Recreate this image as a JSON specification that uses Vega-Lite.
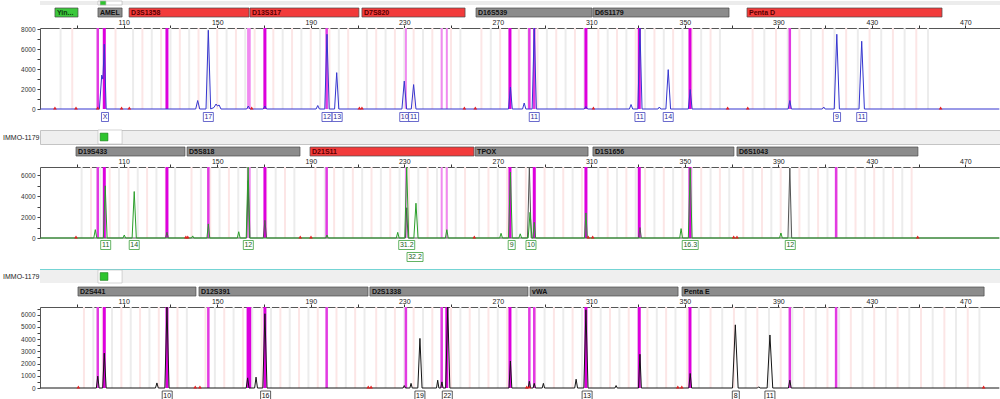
{
"$schema": "https://vega.github.io/schema/vega-lite/v6.json",
"padding": {"left": 2, "top": 0, "right": 0, "bottom": 0},
"bounds": "flush",
"spacing": 0,
"config": {"view": {"stroke": null}, "font": "Liberation Sans", "axis": {"labelFont": "Liberation Sans"}},
"datasets": {
"lc1": [{"n":"Yin...","s":80.6,"e":90.45,"k":"c"},{"n":"AMEL","s":99.0,"e":109.3,"k":"g"},{"n":"D3S1358","s":112.3,"e":163.6,"k":"r"},{"n":"D13S317","s":164.0,"e":210.6,"k":"r"},{"n":"D7S820","s":211.9,"e":256.0,"k":"r"},{"n":"D16S539","s":260.7,"e":310.3,"k":"g"},{"n":"D6S1179","s":310.7,"e":368.9,"k":"g"},{"n":"Penta D","s":376.6,"e":460.0,"k":"r"}],
"lc2": [{"n":"D19S433","s":89.6,"e":136.2,"k":"g"},{"n":"D5S818","s":137.1,"e":185.4,"k":"g"},{"n":"D21S11","s":189.7,"e":259.8,"k":"r"},{"n":"TPOX","s":260.3,"e":308.6,"k":"g"},{"n":"D1S1656","s":310.7,"e":371.0,"k":"g"},{"n":"D6S1043","s":372.3,"e":449.7,"k":"g"}],
"lc3": [{"n":"D2S441","s":90.45,"e":140.9,"k":"g"},{"n":"D12S391","s":142.2,"e":214.5,"k":"g"},{"n":"D2S1338","s":215.3,"e":282.9,"k":"g"},{"n":"vWA","s":283.8,"e":347.1,"k":"g"},{"n":"Penta E","s":348.8,"e":478.0,"k":"g"}],
"st1": [{"bp":83,"t":"g"},{"bp":88,"t":"p"},{"bp":101.5,"t":"g"},{"bp":106.5,"t":"p"},{"bp":114,"t":"g"},{"bp":118,"t":"p"},{"bp":122,"t":"g"},{"bp":126,"t":"p"},{"bp":130,"t":"g"},{"bp":134,"t":"p"},{"bp":138,"t":"g"},{"bp":142,"t":"p"},{"bp":146,"t":"g"},{"bp":150,"t":"p"},{"bp":154,"t":"g"},{"bp":158,"t":"p"},{"bp":162,"t":"g"},{"bp":166,"t":"p"},{"bp":170,"t":"g"},{"bp":174,"t":"p"},{"bp":178,"t":"g"},{"bp":182,"t":"p"},{"bp":186,"t":"g"},{"bp":190,"t":"p"},{"bp":194,"t":"g"},{"bp":198,"t":"p"},{"bp":202,"t":"g"},{"bp":206,"t":"p"},{"bp":214,"t":"g"},{"bp":218,"t":"p"},{"bp":222,"t":"g"},{"bp":226,"t":"p"},{"bp":230,"t":"g"},{"bp":234,"t":"p"},{"bp":238,"t":"g"},{"bp":242,"t":"p"},{"bp":246,"t":"g"},{"bp":250,"t":"p"},{"bp":254,"t":"g"},{"bp":263,"t":"p"},{"bp":267,"t":"g"},{"bp":271,"t":"p"},{"bp":275,"t":"g"},{"bp":279,"t":"p"},{"bp":283,"t":"g"},{"bp":287,"t":"p"},{"bp":291,"t":"g"},{"bp":295,"t":"p"},{"bp":299,"t":"g"},{"bp":303,"t":"p"},{"bp":307,"t":"g"},{"bp":313,"t":"p"},{"bp":317,"t":"g"},{"bp":321,"t":"p"},{"bp":325,"t":"g"},{"bp":329,"t":"p"},{"bp":333,"t":"g"},{"bp":337,"t":"p"},{"bp":341,"t":"g"},{"bp":345,"t":"p"},{"bp":349,"t":"g"},{"bp":353,"t":"p"},{"bp":357,"t":"g"},{"bp":361,"t":"p"},{"bp":365,"t":"g"},{"bp":379,"t":"p"},{"bp":384,"t":"g"},{"bp":389,"t":"p"},{"bp":394,"t":"g"},{"bp":399,"t":"p"},{"bp":404,"t":"g"},{"bp":409,"t":"p"},{"bp":414,"t":"g"},{"bp":419,"t":"p"},{"bp":424,"t":"g"},{"bp":429,"t":"p"},{"bp":434,"t":"g"},{"bp":439,"t":"p"},{"bp":444,"t":"g"},{"bp":449,"t":"p"},{"bp":454,"t":"g"}],
"st2": [{"bp":92,"t":"g"},{"bp":96,"t":"p"},{"bp":100,"t":"g"},{"bp":104,"t":"p"},{"bp":108,"t":"g"},{"bp":112,"t":"p"},{"bp":116,"t":"g"},{"bp":120,"t":"p"},{"bp":124,"t":"g"},{"bp":128,"t":"p"},{"bp":132,"t":"g"},{"bp":139,"t":"p"},{"bp":143,"t":"g"},{"bp":147,"t":"p"},{"bp":151,"t":"g"},{"bp":155,"t":"p"},{"bp":159,"t":"g"},{"bp":163,"t":"p"},{"bp":167,"t":"g"},{"bp":171,"t":"p"},{"bp":175,"t":"g"},{"bp":179,"t":"p"},{"bp":183,"t":"g"},{"bp":192,"t":"p"},{"bp":196,"t":"g"},{"bp":200,"t":"p"},{"bp":204,"t":"g"},{"bp":208,"t":"p"},{"bp":212,"t":"g"},{"bp":216,"t":"p"},{"bp":220,"t":"g"},{"bp":224,"t":"p"},{"bp":228,"t":"g"},{"bp":232,"t":"p"},{"bp":236,"t":"g"},{"bp":240,"t":"p"},{"bp":244,"t":"g"},{"bp":248,"t":"p"},{"bp":252,"t":"g"},{"bp":256,"t":"p"},{"bp":262,"t":"g"},{"bp":266,"t":"p"},{"bp":270,"t":"g"},{"bp":274,"t":"p"},{"bp":278,"t":"g"},{"bp":282,"t":"p"},{"bp":286,"t":"g"},{"bp":290,"t":"p"},{"bp":294,"t":"g"},{"bp":298,"t":"p"},{"bp":302,"t":"g"},{"bp":306,"t":"p"},{"bp":313,"t":"g"},{"bp":317,"t":"p"},{"bp":321,"t":"g"},{"bp":325,"t":"p"},{"bp":329,"t":"g"},{"bp":333,"t":"p"},{"bp":337,"t":"g"},{"bp":341,"t":"p"},{"bp":345,"t":"g"},{"bp":349,"t":"p"},{"bp":353,"t":"g"},{"bp":357,"t":"p"},{"bp":361,"t":"g"},{"bp":365,"t":"p"},{"bp":369,"t":"g"},{"bp":375,"t":"p"},{"bp":379,"t":"g"},{"bp":383,"t":"p"},{"bp":387,"t":"g"},{"bp":391,"t":"p"},{"bp":395,"t":"g"},{"bp":399,"t":"p"},{"bp":403,"t":"g"},{"bp":407,"t":"p"},{"bp":411,"t":"g"},{"bp":415,"t":"p"},{"bp":419,"t":"g"},{"bp":423,"t":"p"},{"bp":427,"t":"g"},{"bp":431,"t":"p"},{"bp":435,"t":"g"},{"bp":439,"t":"p"},{"bp":443,"t":"g"},{"bp":447,"t":"p"}],
"st3": [{"bp":93,"t":"p"},{"bp":97,"t":"g"},{"bp":101,"t":"p"},{"bp":105,"t":"g"},{"bp":109,"t":"p"},{"bp":113,"t":"g"},{"bp":117,"t":"p"},{"bp":121,"t":"g"},{"bp":125,"t":"p"},{"bp":129,"t":"g"},{"bp":133,"t":"p"},{"bp":137,"t":"g"},{"bp":145,"t":"p"},{"bp":149,"t":"g"},{"bp":153,"t":"p"},{"bp":157,"t":"g"},{"bp":161,"t":"p"},{"bp":165,"t":"g"},{"bp":169,"t":"p"},{"bp":173,"t":"g"},{"bp":177,"t":"p"},{"bp":181,"t":"g"},{"bp":185,"t":"p"},{"bp":189,"t":"g"},{"bp":193,"t":"p"},{"bp":197,"t":"g"},{"bp":201,"t":"p"},{"bp":205,"t":"g"},{"bp":209,"t":"p"},{"bp":213,"t":"g"},{"bp":218,"t":"p"},{"bp":222,"t":"g"},{"bp":226,"t":"p"},{"bp":230,"t":"g"},{"bp":234,"t":"p"},{"bp":238,"t":"g"},{"bp":242,"t":"p"},{"bp":246,"t":"g"},{"bp":250,"t":"p"},{"bp":254,"t":"g"},{"bp":258,"t":"p"},{"bp":262,"t":"g"},{"bp":266,"t":"p"},{"bp":270,"t":"g"},{"bp":274,"t":"p"},{"bp":278,"t":"g"},{"bp":286,"t":"p"},{"bp":290,"t":"g"},{"bp":294,"t":"p"},{"bp":298,"t":"g"},{"bp":302,"t":"p"},{"bp":306,"t":"g"},{"bp":310,"t":"p"},{"bp":314,"t":"g"},{"bp":318,"t":"p"},{"bp":322,"t":"g"},{"bp":326,"t":"p"},{"bp":330,"t":"g"},{"bp":334,"t":"p"},{"bp":338,"t":"g"},{"bp":342,"t":"p"},{"bp":346,"t":"g"},{"bp":351,"t":"p"},{"bp":356,"t":"g"},{"bp":361,"t":"p"},{"bp":366,"t":"g"},{"bp":371,"t":"p"},{"bp":376,"t":"g"},{"bp":381,"t":"p"},{"bp":386,"t":"g"},{"bp":391,"t":"p"},{"bp":396,"t":"g"},{"bp":401,"t":"p"},{"bp":406,"t":"g"},{"bp":411,"t":"p"},{"bp":416,"t":"g"},{"bp":421,"t":"p"},{"bp":426,"t":"g"},{"bp":431,"t":"p"},{"bp":436,"t":"g"},{"bp":441,"t":"p"},{"bp":446,"t":"g"},{"bp":451,"t":"p"},{"bp":456,"t":"g"},{"bp":461,"t":"p"},{"bp":466,"t":"g"},{"bp":471,"t":"p"},{"bp":476,"t":"g"}],
"mg1": [{"bp":98.9,"lv":"m"},{"bp":101.7,"lv":"s"},{"bp":128.5,"lv":"s"},{"bp":163.2,"lv":"l"},{"bp":163.9,"lv":"l"},{"bp":170.4,"lv":"s"},{"bp":196.8,"lv":"m"},{"bp":230.7,"lv":"l"},{"bp":246.0,"lv":"l"},{"bp":248.2,"lv":"l"},{"bp":275.2,"lv":"s"},{"bp":283.5,"lv":"m"},{"bp":285.6,"lv":"m"},{"bp":307.7,"lv":"s"},{"bp":330.5,"lv":"s"},{"bp":352.2,"lv":"s"},{"bp":394.9,"lv":"m"}],
"mg2": [{"bp":98.9,"lv":"m"},{"bp":101.7,"lv":"s"},{"bp":128.5,"lv":"s"},{"bp":146.2,"lv":"m"},{"bp":163.2,"lv":"l"},{"bp":163.9,"lv":"l"},{"bp":170.4,"lv":"s"},{"bp":196.8,"lv":"m"},{"bp":230.7,"lv":"l"},{"bp":246.0,"lv":"l"},{"bp":248.2,"lv":"l"},{"bp":275.2,"lv":"s"},{"bp":285.6,"lv":"s"},{"bp":307.7,"lv":"s"},{"bp":330.5,"lv":"s"},{"bp":352.2,"lv":"s"},{"bp":414.7,"lv":"m"}],
"mg3": [{"bp":98.9,"lv":"m"},{"bp":101.7,"lv":"s"},{"bp":128.5,"lv":"s"},{"bp":146.2,"lv":"m"},{"bp":163.2,"lv":"s"},{"bp":163.9,"lv":"s"},{"bp":170.4,"lv":"s"},{"bp":196.8,"lv":"m"},{"bp":230.7,"lv":"m"},{"bp":246.0,"lv":"m"},{"bp":248.2,"lv":"s"},{"bp":275.2,"lv":"s"},{"bp":283.5,"lv":"m"},{"bp":285.6,"lv":"m"},{"bp":307.7,"lv":"s"},{"bp":330.5,"lv":"s"},{"bp":352.2,"lv":"s"},{"bp":394.9,"lv":"m"},{"bp":414.7,"lv":"m"}],
"pk1": [{"bp":74.5,"h":0},{"bp":99.6,"h":0},{"bp":100.6,"h":3400},{"bp":101.1,"h":3000},{"bp":101.7,"h":6500},{"bp":102.5,"h":0},{"bp":140.8,"h":0},{"bp":141.65,"h":850},{"bp":142.5,"h":0},{"bp":145.2,"h":0},{"bp":146.2,"h":7900},{"bp":147.2,"h":0},{"bp":148.6,"h":150},{"bp":149.5,"h":500},{"bp":150.1,"h":300},{"bp":150.8,"h":400},{"bp":151.6,"h":0},{"bp":162.6,"h":0},{"bp":163.3,"h":300},{"bp":164.0,"h":0},{"bp":169.7,"h":0},{"bp":170.4,"h":300},{"bp":171.1,"h":0},{"bp":192.3,"h":0},{"bp":193.0,"h":350},{"bp":193.7,"h":0},{"bp":196.0,"h":0},{"bp":196.95,"h":7500},{"bp":197.9,"h":0},{"bp":200.2,"h":0},{"bp":201.1,"h":3650},{"bp":202.0,"h":0},{"bp":229.0,"h":0},{"bp":230.0,"h":2800},{"bp":231.0,"h":0},{"bp":233.0,"h":0},{"bp":234.0,"h":2450},{"bp":235.0,"h":0},{"bp":274.6,"h":0},{"bp":275.4,"h":2200},{"bp":276.2,"h":0},{"bp":280.6,"h":0},{"bp":281.3,"h":600},{"bp":282.0,"h":0},{"bp":284.7,"h":0},{"bp":285.6,"h":8130},{"bp":286.5,"h":0},{"bp":307.0,"h":0},{"bp":307.7,"h":250},{"bp":308.4,"h":0},{"bp":326.3,"h":0},{"bp":327.0,"h":450},{"bp":327.7,"h":0},{"bp":329.9,"h":0},{"bp":330.8,"h":8130},{"bp":331.7,"h":0},{"bp":338.5,"h":0},{"bp":339.1,"h":200},{"bp":339.7,"h":0},{"bp":341.9,"h":0},{"bp":342.9,"h":3950},{"bp":343.9,"h":0},{"bp":351.5,"h":0},{"bp":352.3,"h":1950},{"bp":353.1,"h":0},{"bp":394.2,"h":0},{"bp":394.9,"h":850},{"bp":395.6,"h":0},{"bp":408.8,"h":0},{"bp":409.4,"h":200},{"bp":410.0,"h":0},{"bp":413.9,"h":0},{"bp":415.0,"h":7500},{"bp":416.1,"h":0},{"bp":424.5,"h":0},{"bp":425.65,"h":6800},{"bp":426.8,"h":0},{"bp":484.5,"h":0}],
"pk2": [{"bp":74.5,"h":0},{"bp":97.2,"h":0},{"bp":97.85,"h":800},{"bp":98.5,"h":0},{"bp":101.3,"h":0},{"bp":102.1,"h":5000},{"bp":102.9,"h":0},{"bp":109.7,"h":0},{"bp":110.25,"h":290},{"bp":110.8,"h":0},{"bp":113.6,"h":0},{"bp":114.5,"h":4450},{"bp":115.4,"h":0},{"bp":139.0,"h":0},{"bp":139.5,"h":200},{"bp":140.0,"h":0},{"bp":145.6,"h":0},{"bp":146.2,"h":1350},{"bp":146.8,"h":0},{"bp":158.6,"h":0},{"bp":159.2,"h":600},{"bp":159.8,"h":0},{"bp":162.4,"h":0},{"bp":163.2,"h":6800},{"bp":164.0,"h":0},{"bp":196.4,"h":0},{"bp":196.95,"h":290},{"bp":197.5,"h":0},{"bp":226.6,"h":0},{"bp":227.2,"h":540},{"bp":227.8,"h":0},{"bp":230.2,"h":0},{"bp":231.05,"h":6800},{"bp":231.9,"h":0},{"bp":234.1,"h":0},{"bp":235.0,"h":3330},{"bp":235.9,"h":0},{"bp":247.6,"h":0},{"bp":248.2,"h":800},{"bp":248.8,"h":0},{"bp":270.8,"h":0},{"bp":271.4,"h":450},{"bp":272.0,"h":0},{"bp":274.6,"h":0},{"bp":275.4,"h":6300},{"bp":276.2,"h":0},{"bp":279.0,"h":0},{"bp":279.6,"h":400},{"bp":280.2,"h":0},{"bp":283.0,"h":0},{"bp":283.8,"h":2460},{"bp":284.6,"h":0},{"bp":285.0,"h":0},{"bp":285.6,"h":1500},{"bp":286.2,"h":0},{"bp":307.1,"h":0},{"bp":307.7,"h":2400},{"bp":308.3,"h":0},{"bp":347.8,"h":0},{"bp":348.4,"h":900},{"bp":349.0,"h":0},{"bp":351.5,"h":0},{"bp":352.3,"h":6700},{"bp":353.1,"h":0},{"bp":390.5,"h":0},{"bp":391.1,"h":480},{"bp":391.7,"h":0},{"bp":484.5,"h":0}],
"pk2b": [{"bp":74.5,"h":0},{"bp":127.9,"h":0},{"bp":128.5,"h":550},{"bp":129.1,"h":0},{"bp":162.6,"h":0},{"bp":163.2,"h":5500},{"bp":163.8,"h":0},{"bp":169.7,"h":0},{"bp":170.4,"h":1700},{"bp":171.1,"h":0},{"bp":230.5,"h":0},{"bp":231.05,"h":2900},{"bp":231.6,"h":0},{"bp":282.7,"h":0},{"bp":283.5,"h":6800},{"bp":284.3,"h":0},{"bp":330.2,"h":0},{"bp":330.8,"h":1000},{"bp":331.4,"h":0},{"bp":394.1,"h":0},{"bp":394.9,"h":6700},{"bp":395.7,"h":0},{"bp":484.5,"h":0}],
"pk3": [{"bp":74.5,"h":0},{"bp":98.3,"h":0},{"bp":98.9,"h":970},{"bp":99.5,"h":0},{"bp":101.0,"h":0},{"bp":101.7,"h":2850},{"bp":102.5,"h":0},{"bp":123.6,"h":0},{"bp":124.2,"h":415},{"bp":124.8,"h":0},{"bp":127.6,"h":0},{"bp":128.5,"h":6630},{"bp":129.4,"h":0},{"bp":162.4,"h":0},{"bp":163.0,"h":830},{"bp":163.6,"h":0},{"bp":166.0,"h":0},{"bp":166.6,"h":890},{"bp":167.2,"h":0},{"bp":169.5,"h":0},{"bp":170.4,"h":6080},{"bp":171.3,"h":0},{"bp":229.5,"h":0},{"bp":230.0,"h":200},{"bp":230.5,"h":0},{"bp":232.4,"h":0},{"bp":232.9,"h":380},{"bp":233.4,"h":0},{"bp":235.8,"h":0},{"bp":236.7,"h":4060},{"bp":237.6,"h":0},{"bp":243.8,"h":0},{"bp":244.3,"h":640},{"bp":244.8,"h":0},{"bp":245.6,"h":0},{"bp":246.1,"h":500},{"bp":246.6,"h":0},{"bp":247.7,"h":0},{"bp":248.6,"h":6630},{"bp":249.5,"h":0},{"bp":274.8,"h":0},{"bp":275.4,"h":2210},{"bp":276.0,"h":0},{"bp":283.0,"h":0},{"bp":283.5,"h":550},{"bp":284.0,"h":0},{"bp":285.1,"h":0},{"bp":285.6,"h":380},{"bp":286.1,"h":0},{"bp":289.0,"h":0},{"bp":289.5,"h":380},{"bp":290.0,"h":0},{"bp":302.9,"h":0},{"bp":303.5,"h":720},{"bp":304.1,"h":0},{"bp":306.8,"h":0},{"bp":307.7,"h":6400},{"bp":308.6,"h":0},{"bp":320.1,"h":0},{"bp":320.6,"h":200},{"bp":321.1,"h":0},{"bp":330.2,"h":0},{"bp":330.8,"h":2760},{"bp":331.4,"h":0},{"bp":351.7,"h":0},{"bp":352.3,"h":1190},{"bp":352.9,"h":0},{"bp":370.4,"h":0},{"bp":371.6,"h":5170},{"bp":372.8,"h":0},{"bp":381.1,"h":0},{"bp":381.6,"h":100},{"bp":382.1,"h":0},{"bp":385.2,"h":0},{"bp":386.4,"h":4340},{"bp":387.6,"h":0},{"bp":394.3,"h":0},{"bp":394.9,"h":640},{"bp":395.5,"h":0},{"bp":484.5,"h":0}],
"rd1": [{"bp":80.6},{"bp":89.6},{"bp":98.9},{"bp":109.1},{"bp":112.4},{"bp":164.75},{"bp":210.8},{"bp":211.9},{"bp":255.7},{"bp":260.4},{"bp":310.9},{"bp":368.3},{"bp":376.9},{"bp":459.4}],
"rd2": [{"bp":89.6},{"bp":136.6},{"bp":137.4},{"bp":185.5},{"bp":190.1},{"bp":259.95},{"bp":308.7},{"bp":310.6},{"bp":370.9},{"bp":372.3},{"bp":449.6}],
"rd3": [{"bp":90.6},{"bp":140.6},{"bp":142.6},{"bp":214.6},{"bp":215.8},{"bp":282.4},{"bp":283.5},{"bp":347.0},{"bp":348.7},{"bp":477.8}],
"lb1": [{"bp":102.0,"label":"X"},{"bp":146.2,"label":"17"},{"bp":196.95,"label":"12"},{"bp":201.3,"label":"13"},{"bp":230.2,"label":"10"},{"bp":234.0,"label":"11"},{"bp":285.6,"label":"11"},{"bp":330.8,"label":"11"},{"bp":342.9,"label":"14"},{"bp":415.1,"label":"9"},{"bp":425.65,"label":"11"}],
"lb2": [{"bp":102.3,"label":"11"},{"bp":114.5,"label":"14"},{"bp":163.3,"label":"12"},{"bp":231.05,"label":"31.2"},{"bp":275.95,"label":"9"},{"bp":284.2,"label":"10"},{"bp":352.3,"label":"16.3"},{"bp":395.1,"label":"12"}],
"lb2low": [{"bp":234.6,"label":"32.2"}],
"lb3": [{"bp":128.6,"label":"10"},{"bp":170.7,"label":"16"},{"bp":236.7,"label":"19"},{"bp":248.4,"label":"22"},{"bp":308.2,"label":"13"},{"bp":371.8,"label":"8"},{"bp":386.4,"label":"11"}]
},
"vconcat": [
{"width": 960, "height": 4, "view": {"fill": "#ececec"}, "data": {"values": [{"s": 99.0, "e": 109.3, "k": "w"}, {"s": 99.9, "e": 102.4, "k": "c"}]},
 "mark": {"type": "rect", "stroke": "#b0b0b0", "strokeWidth": 0.6},
 "encoding": {"x": {"field": "s", "type": "quantitative", "scale": {"domain": [74.2, 484.8], "nice": false}, "axis": null}, "x2": {"field": "e"},
  "color": {"field": "k", "type": "nominal", "scale": {"domain": ["w", "c"], "range": ["#ffffff", "#2fc42f"]}, "legend": null}}},
{"width": 960, "height": 3, "data": {"values": []}, "mark": "point"},
{"width": 960, "height": 9, "data": {"name": "lc1"},
 "encoding": {"x": {"field": "s", "type": "quantitative", "scale": {"domain": [74.2, 484.8], "nice": false}, "axis": null}},
 "layer": [
  {"mark": {"type": "rect", "stroke": "#4a4a4a", "strokeWidth": 0.7}, "encoding": {"x2": {"field": "e"}, "color": {"field": "k", "type": "nominal", "scale": {"domain": ["r", "g", "c"], "range": ["#f23b3b", "#8c8c8c", "#3cc83c"]}, "legend": null}}},
  {"mark": {"type": "text", "align": "left", "dx": 2, "fontSize": 7, "fontWeight": "bold", "baseline": "middle"}, "encoding": {"text": {"field": "n"}, "color": {"field": "k", "type": "nominal", "scale": {"domain": ["r", "g", "c"], "range": ["#5a0000", "#111111", "#0d3d0d"]}, "legend": null}}}
 ],
 "resolve": {"scale": {"color": "independent"}}},
{"width": 960, "height": 11, "data": {"values": []}, "mark": "point"},
{"width": 960, "height": 81,
 "encoding": {"x": {"field": "bp", "type": "quantitative", "title": null, "scale": {"domain": [74.2, 484.8], "nice": false},
   "axis": {"orient": "top", "values": [90,110,130,150,170,190,210,230,250,270,290,310,330,350,370,390,410,430,450,470], "labelExpr": "datum.value % 40 == 30 ? datum.label : ''", "labelFontSize": 7, "labelPadding": 0, "tickSize": 3, "grid": false, "domainColor": "#555", "tickColor": "#333", "labelColor": "#222", "labelFlush": false, "labelOverlap": false, "title": null}}},
 "layer": [
  {"data": {"name": "st1"}, "mark": {"type": "rule", "strokeWidth": 2}, "encoding": {"color": {"field": "t", "type": "nominal", "scale": {"domain": ["g", "p"], "range": ["#ececec", "#fce6e6"]}, "legend": null}}},
  {"data": {"name": "mg1"}, "mark": {"type": "rule"}, "encoding": {"color": {"field": "lv", "type": "nominal", "scale": {"domain": ["s", "m", "l"], "range": ["#dd00dd", "#e23ae2", "#f08af0"]}, "legend": null}, "size": {"field": "lv", "type": "ordinal", "scale": {"domain": ["s", "m", "l"], "range": [3, 2, 1.5]}, "legend": null}}},
  {"data": {"name": "pk1"}, "mark": {"type": "line", "color": "#3535cf", "strokeWidth": 1}, "encoding": {"y": {"field": "h", "type": "quantitative", "title": null, "scale": {"domain": [0, 8130], "nice": false},
    "axis": {"values": [0,1000,2000,3000,4000,5000,6000,7000,8000], "labelExpr": "datum.value % 2000 == 0 ? datum.label : ''", "format": "d", "labelFontSize": 6.5, "tickSize": 3, "labelPadding": 2, "labelOverlap": false, "labelFlush": false, "grid": false, "domainColor": "#555", "tickColor": "#444", "labelColor": "#333", "title": null}}}},
  {"data": {"name": "rd1"}, "mark": {"type": "point", "shape": "triangle-up", "filled": true, "color": "#e32020", "size": 14, "opacity": 1, "yOffset": -1}, "encoding": {"y": {"datum": 0, "type": "quantitative", "title": null, "scale": {"domain": [0, 8130], "nice": false},
    "axis": {"values": [0,1000,2000,3000,4000,5000,6000,7000,8000], "labelExpr": "datum.value % 2000 == 0 ? datum.label : ''", "format": "d", "labelFontSize": 6.5, "tickSize": 3, "labelPadding": 2, "labelOverlap": false, "labelFlush": false, "grid": false, "domainColor": "#555", "tickColor": "#444", "labelColor": "#333", "title": null}}}},
  {"data": {"name": "lb1"}, "transform": [{"filter": "length(datum.label) == 1"}], "mark": {"type": "point", "shape": "M-0.7,-0.9H0.7V0.9H-0.7Z", "size": 100, "filled": true, "fill": "#ffffff", "stroke": "#4545c0", "strokeWidth": 0.8, "opacity": 1, "yOffset": 8}, "encoding": {"y": {"datum": 0, "type": "quantitative", "title": null, "scale": {"domain": [0, 8130], "nice": false},
    "axis": {"values": [0,1000,2000,3000,4000,5000,6000,7000,8000], "labelExpr": "datum.value % 2000 == 0 ? datum.label : ''", "format": "d", "labelFontSize": 6.5, "tickSize": 3, "labelPadding": 2, "labelOverlap": false, "labelFlush": false, "grid": false, "domainColor": "#555", "tickColor": "#444", "labelColor": "#333", "title": null}}}},
  {"data": {"name": "lb1"}, "transform": [{"filter": "length(datum.label) == 2"}], "mark": {"type": "point", "shape": "M-1,-0.9H1V0.9H-1Z", "size": 100, "filled": true, "fill": "#ffffff", "stroke": "#4545c0", "strokeWidth": 0.8, "opacity": 1, "yOffset": 8}, "encoding": {"y": {"datum": 0, "type": "quantitative", "title": null, "scale": {"domain": [0, 8130], "nice": false},
    "axis": {"values": [0,1000,2000,3000,4000,5000,6000,7000,8000], "labelExpr": "datum.value % 2000 == 0 ? datum.label : ''", "format": "d", "labelFontSize": 6.5, "tickSize": 3, "labelPadding": 2, "labelOverlap": false, "labelFlush": false, "grid": false, "domainColor": "#555", "tickColor": "#444", "labelColor": "#333", "title": null}}}},
  {"data": {"name": "lb1"}, "mark": {"type": "text", "fontSize": 7, "color": "#2a2a9a", "yOffset": 8, "baseline": "middle"}, "encoding": {"text": {"field": "label"}, "y": {"datum": 0, "type": "quantitative", "title": null, "scale": {"domain": [0, 8130], "nice": false},
    "axis": {"values": [0,1000,2000,3000,4000,5000,6000,7000,8000], "labelExpr": "datum.value % 2000 == 0 ? datum.label : ''", "format": "d", "labelFontSize": 6.5, "tickSize": 3, "labelPadding": 2, "labelOverlap": false, "labelFlush": false, "grid": false, "domainColor": "#555", "tickColor": "#444", "labelColor": "#333", "title": null}}}}
 ],
 "resolve": {"scale": {"color": "independent"}}},
{"width": 960, "height": 21, "data": {"values": []}, "mark": "point"},
{"width": 960, "height": 14, "view": {"fill": "#efefef", "stroke": "#c4c4c4"}, "data": {"values": [{"s": 99.0, "e": 109.3, "c": 101.6}]},
 "layer": [
  {"mark": {"type": "rect", "fill": "#ffffff", "stroke": "#b8b8b8", "strokeWidth": 0.6}, "encoding": {"x": {"field": "s", "type": "quantitative", "scale": {"domain": [74.2, 484.8], "nice": false}, "axis": null}, "x2": {"field": "e"}}},
  {"mark": {"type": "point", "shape": "square", "size": 60, "filled": true, "fill": "#2ec42e", "stroke": "#167a16", "strokeWidth": 0.6, "opacity": 1}, "encoding": {"x": {"field": "c", "type": "quantitative", "scale": {"domain": [74.2, 484.8], "nice": false}, "axis": null},
    "y": {"datum": "IMMO-1179", "type": "nominal", "title": null, "axis": {"domain": false, "ticks": false, "labelFontSize": 7, "labelPadding": 1, "labelColor": "#222", "title": null}}}}
 ]},
{"width": 960, "height": 3, "data": {"values": []}, "mark": "point"},
{"width": 960, "height": 9, "data": {"name": "lc2"},
 "encoding": {"x": {"field": "s", "type": "quantitative", "scale": {"domain": [74.2, 484.8], "nice": false}, "axis": null}},
 "layer": [
  {"mark": {"type": "rect", "stroke": "#4a4a4a", "strokeWidth": 0.7}, "encoding": {"x2": {"field": "e"}, "color": {"field": "k", "type": "nominal", "scale": {"domain": ["r", "g", "c"], "range": ["#f23b3b", "#8c8c8c", "#3cc83c"]}, "legend": null}}},
  {"mark": {"type": "text", "align": "left", "dx": 2, "fontSize": 7, "fontWeight": "bold", "baseline": "middle"}, "encoding": {"text": {"field": "n"}, "color": {"field": "k", "type": "nominal", "scale": {"domain": ["r", "g", "c"], "range": ["#5a0000", "#111111", "#0d3d0d"]}, "legend": null}}}
 ],
 "resolve": {"scale": {"color": "independent"}}},
{"width": 960, "height": 11, "data": {"values": []}, "mark": "point"},
{"width": 960, "height": 71,
 "encoding": {"x": {"field": "bp", "type": "quantitative", "title": null, "scale": {"domain": [74.2, 484.8], "nice": false},
   "axis": {"orient": "top", "values": [90,110,130,150,170,190,210,230,250,270,290,310,330,350,370,390,410,430,450,470], "labelExpr": "datum.value % 40 == 30 ? datum.label : ''", "labelFontSize": 7, "labelPadding": 0, "tickSize": 3, "grid": false, "domainColor": "#555", "tickColor": "#333", "labelColor": "#222", "labelFlush": false, "labelOverlap": false, "title": null}}},
 "layer": [
  {"data": {"name": "st2"}, "mark": {"type": "rule", "strokeWidth": 2}, "encoding": {"color": {"field": "t", "type": "nominal", "scale": {"domain": ["g", "p"], "range": ["#ececec", "#fce6e6"]}, "legend": null}}},
  {"data": {"name": "mg2"}, "mark": {"type": "rule"}, "encoding": {"color": {"field": "lv", "type": "nominal", "scale": {"domain": ["s", "m", "l"], "range": ["#dd00dd", "#e23ae2", "#f08af0"]}, "legend": null}, "size": {"field": "lv", "type": "ordinal", "scale": {"domain": ["s", "m", "l"], "range": [3, 2, 1.5]}, "legend": null}}},
  {"data": {"name": "pk2b"}, "mark": {"type": "line", "color": "#555555", "strokeWidth": 1}, "encoding": {"y": {"field": "h", "type": "quantitative", "title": null, "scale": {"domain": [0, 6800], "nice": false},
    "axis": {"values": [0,1000,2000,3000,4000,5000,6000], "labelExpr": "datum.value % 2000 == 0 ? datum.label : ''", "format": "d", "labelFontSize": 6.5, "tickSize": 3, "labelPadding": 2, "labelOverlap": false, "labelFlush": false, "grid": false, "domainColor": "#555", "tickColor": "#444", "labelColor": "#333", "title": null}}}},
  {"data": {"name": "pk2"}, "mark": {"type": "line", "color": "#2a9e2a", "strokeWidth": 1}, "encoding": {"y": {"field": "h", "type": "quantitative", "title": null, "scale": {"domain": [0, 6800], "nice": false},
    "axis": {"values": [0,1000,2000,3000,4000,5000,6000], "labelExpr": "datum.value % 2000 == 0 ? datum.label : ''", "format": "d", "labelFontSize": 6.5, "tickSize": 3, "labelPadding": 2, "labelOverlap": false, "labelFlush": false, "grid": false, "domainColor": "#555", "tickColor": "#444", "labelColor": "#333", "title": null}}}},
  {"data": {"name": "rd2"}, "mark": {"type": "point", "shape": "triangle-up", "filled": true, "color": "#e32020", "size": 14, "opacity": 1, "yOffset": -1}, "encoding": {"y": {"datum": 0, "type": "quantitative", "title": null, "scale": {"domain": [0, 6800], "nice": false},
    "axis": {"values": [0,1000,2000,3000,4000,5000,6000], "labelExpr": "datum.value % 2000 == 0 ? datum.label : ''", "format": "d", "labelFontSize": 6.5, "tickSize": 3, "labelPadding": 2, "labelOverlap": false, "labelFlush": false, "grid": false, "domainColor": "#555", "tickColor": "#444", "labelColor": "#333", "title": null}}}},
  {"data": {"name": "lb2"}, "transform": [{"filter": "length(datum.label) == 1"}], "mark": {"type": "point", "shape": "M-0.7,-0.9H0.7V0.9H-0.7Z", "size": 100, "filled": true, "fill": "#ffffff", "stroke": "#3ca03c", "strokeWidth": 0.8, "opacity": 1, "yOffset": 7}, "encoding": {"y": {"datum": 0, "type": "quantitative", "title": null, "scale": {"domain": [0, 6800], "nice": false},
    "axis": {"values": [0,1000,2000,3000,4000,5000,6000], "labelExpr": "datum.value % 2000 == 0 ? datum.label : ''", "format": "d", "labelFontSize": 6.5, "tickSize": 3, "labelPadding": 2, "labelOverlap": false, "labelFlush": false, "grid": false, "domainColor": "#555", "tickColor": "#444", "labelColor": "#333", "title": null}}}},
  {"data": {"name": "lb2"}, "transform": [{"filter": "length(datum.label) == 2"}], "mark": {"type": "point", "shape": "M-1,-0.9H1V0.9H-1Z", "size": 100, "filled": true, "fill": "#ffffff", "stroke": "#3ca03c", "strokeWidth": 0.8, "opacity": 1, "yOffset": 7}, "encoding": {"y": {"datum": 0, "type": "quantitative", "title": null, "scale": {"domain": [0, 6800], "nice": false},
    "axis": {"values": [0,1000,2000,3000,4000,5000,6000], "labelExpr": "datum.value % 2000 == 0 ? datum.label : ''", "format": "d", "labelFontSize": 6.5, "tickSize": 3, "labelPadding": 2, "labelOverlap": false, "labelFlush": false, "grid": false, "domainColor": "#555", "tickColor": "#444", "labelColor": "#333", "title": null}}}},
  {"data": {"name": "lb2"}, "transform": [{"filter": "length(datum.label) > 2"}], "mark": {"type": "point", "shape": "M-1.6,-0.9H1.6V0.9H-1.6Z", "size": 100, "filled": true, "fill": "#ffffff", "stroke": "#3ca03c", "strokeWidth": 0.8, "opacity": 1, "yOffset": 7}, "encoding": {"y": {"datum": 0, "type": "quantitative", "title": null, "scale": {"domain": [0, 6800], "nice": false},
    "axis": {"values": [0,1000,2000,3000,4000,5000,6000], "labelExpr": "datum.value % 2000 == 0 ? datum.label : ''", "format": "d", "labelFontSize": 6.5, "tickSize": 3, "labelPadding": 2, "labelOverlap": false, "labelFlush": false, "grid": false, "domainColor": "#555", "tickColor": "#444", "labelColor": "#333", "title": null}}}},
  {"data": {"name": "lb2low"}, "mark": {"type": "point", "shape": "M-1.6,-0.9H1.6V0.9H-1.6Z", "size": 100, "filled": true, "fill": "#ffffff", "stroke": "#3ca03c", "strokeWidth": 0.8, "opacity": 1, "yOffset": 19}, "encoding": {"y": {"datum": 0, "type": "quantitative", "title": null, "scale": {"domain": [0, 6800], "nice": false},
    "axis": {"values": [0,1000,2000,3000,4000,5000,6000], "labelExpr": "datum.value % 2000 == 0 ? datum.label : ''", "format": "d", "labelFontSize": 6.5, "tickSize": 3, "labelPadding": 2, "labelOverlap": false, "labelFlush": false, "grid": false, "domainColor": "#555", "tickColor": "#444", "labelColor": "#333", "title": null}}}},
  {"data": {"name": "lb2"}, "mark": {"type": "text", "fontSize": 7, "color": "#1d601d", "yOffset": 7, "baseline": "middle"}, "encoding": {"text": {"field": "label"}, "y": {"datum": 0, "type": "quantitative", "title": null, "scale": {"domain": [0, 6800], "nice": false},
    "axis": {"values": [0,1000,2000,3000,4000,5000,6000], "labelExpr": "datum.value % 2000 == 0 ? datum.label : ''", "format": "d", "labelFontSize": 6.5, "tickSize": 3, "labelPadding": 2, "labelOverlap": false, "labelFlush": false, "grid": false, "domainColor": "#555", "tickColor": "#444", "labelColor": "#333", "title": null}}}},
  {"data": {"name": "lb2low"}, "mark": {"type": "text", "fontSize": 7, "color": "#1d601d", "yOffset": 19, "baseline": "middle"}, "encoding": {"text": {"field": "label"}, "y": {"datum": 0, "type": "quantitative", "title": null, "scale": {"domain": [0, 6800], "nice": false},
    "axis": {"values": [0,1000,2000,3000,4000,5000,6000], "labelExpr": "datum.value % 2000 == 0 ? datum.label : ''", "format": "d", "labelFontSize": 6.5, "tickSize": 3, "labelPadding": 2, "labelOverlap": false, "labelFlush": false, "grid": false, "domainColor": "#555", "tickColor": "#444", "labelColor": "#333", "title": null}}}}
 ],
 "resolve": {"scale": {"color": "independent"}}},
{"width": 960, "height": 31, "data": {"values": []}, "mark": "point"},
{"width": 960, "height": 1, "view": {"fill": "#74d4d4"}, "data": {"values": []}, "mark": "point"},
{"width": 960, "height": 13, "view": {"fill": "#efefef"}, "data": {"values": [{"s": 99.0, "e": 109.3, "c": 101.6}]},
 "layer": [
  {"mark": {"type": "rect", "fill": "#ffffff", "stroke": "#b8b8b8", "strokeWidth": 0.6}, "encoding": {"x": {"field": "s", "type": "quantitative", "scale": {"domain": [74.2, 484.8], "nice": false}, "axis": null}, "x2": {"field": "e"}}},
  {"mark": {"type": "point", "shape": "square", "size": 60, "filled": true, "fill": "#2ec42e", "stroke": "#167a16", "strokeWidth": 0.6, "opacity": 1}, "encoding": {"x": {"field": "c", "type": "quantitative", "scale": {"domain": [74.2, 484.8], "nice": false}, "axis": null},
    "y": {"datum": "IMMO-1179", "type": "nominal", "title": null, "axis": {"domain": false, "ticks": false, "labelFontSize": 7, "labelPadding": 1, "labelColor": "#222", "title": null}}}}
 ]},
{"width": 960, "height": 4, "data": {"values": []}, "mark": "point"},
{"width": 960, "height": 9, "data": {"name": "lc3"},
 "encoding": {"x": {"field": "s", "type": "quantitative", "scale": {"domain": [74.2, 484.8], "nice": false}, "axis": null}},
 "layer": [
  {"mark": {"type": "rect", "stroke": "#4a4a4a", "strokeWidth": 0.7}, "encoding": {"x2": {"field": "e"}, "color": {"field": "k", "type": "nominal", "scale": {"domain": ["r", "g", "c"], "range": ["#f23b3b", "#8c8c8c", "#3cc83c"]}, "legend": null}}},
  {"mark": {"type": "text", "align": "left", "dx": 2, "fontSize": 7, "fontWeight": "bold", "baseline": "middle"}, "encoding": {"text": {"field": "n"}, "color": {"field": "k", "type": "nominal", "scale": {"domain": ["r", "g", "c"], "range": ["#5a0000", "#111111", "#0d3d0d"]}, "legend": null}}}
 ],
 "resolve": {"scale": {"color": "independent"}}},
{"width": 960, "height": 11, "data": {"values": []}, "mark": "point"},
{"width": 960, "height": 81,
 "encoding": {"x": {"field": "bp", "type": "quantitative", "title": null, "scale": {"domain": [74.2, 484.8], "nice": false},
   "axis": {"orient": "top", "values": [90,110,130,150,170,190,210,230,250,270,290,310,330,350,370,390,410,430,450,470], "labelExpr": "datum.value % 40 == 30 ? datum.label : ''", "labelFontSize": 7, "labelPadding": 0, "tickSize": 3, "grid": false, "domainColor": "#555", "tickColor": "#333", "labelColor": "#222", "labelFlush": false, "labelOverlap": false, "title": null}}},
 "layer": [
  {"data": {"name": "st3"}, "mark": {"type": "rule", "strokeWidth": 2}, "encoding": {"color": {"field": "t", "type": "nominal", "scale": {"domain": ["g", "p"], "range": ["#ececec", "#fce6e6"]}, "legend": null}}},
  {"data": {"name": "mg3"}, "mark": {"type": "rule"}, "encoding": {"color": {"field": "lv", "type": "nominal", "scale": {"domain": ["s", "m", "l"], "range": ["#dd00dd", "#e23ae2", "#f08af0"]}, "legend": null}, "size": {"field": "lv", "type": "ordinal", "scale": {"domain": ["s", "m", "l"], "range": [3, 2, 1.5]}, "legend": null}}},
  {"data": {"name": "pk3"}, "mark": {"type": "line", "color": "#151515", "strokeWidth": 1}, "encoding": {"y": {"field": "h", "type": "quantitative", "title": null, "scale": {"domain": [0, 6630], "nice": false},
    "axis": {"values": [0,500,1000,1500,2000,2500,3000,3500,4000,4500,5000,5500,6000,6500], "labelExpr": "datum.value % 1000 == 0 ? datum.label : ''", "format": "d", "labelFontSize": 6.5, "tickSize": 3, "labelPadding": 2, "labelOverlap": false, "labelFlush": false, "grid": false, "domainColor": "#555", "tickColor": "#444", "labelColor": "#333", "title": null}}}},
  {"data": {"name": "rd3"}, "mark": {"type": "point", "shape": "triangle-up", "filled": true, "color": "#e32020", "size": 14, "opacity": 1, "yOffset": -1}, "encoding": {"y": {"datum": 0, "type": "quantitative", "title": null, "scale": {"domain": [0, 6630], "nice": false},
    "axis": {"values": [0,500,1000,1500,2000,2500,3000,3500,4000,4500,5000,5500,6000,6500], "labelExpr": "datum.value % 1000 == 0 ? datum.label : ''", "format": "d", "labelFontSize": 6.5, "tickSize": 3, "labelPadding": 2, "labelOverlap": false, "labelFlush": false, "grid": false, "domainColor": "#555", "tickColor": "#444", "labelColor": "#333", "title": null}}}},
  {"data": {"name": "lb3"}, "transform": [{"filter": "length(datum.label) == 1"}], "mark": {"type": "point", "shape": "M-0.7,-0.9H0.7V0.9H-0.7Z", "size": 100, "filled": true, "fill": "#ffffff", "stroke": "#333333", "strokeWidth": 0.8, "opacity": 1, "yOffset": 7.5}, "encoding": {"y": {"datum": 0, "type": "quantitative", "title": null, "scale": {"domain": [0, 6630], "nice": false},
    "axis": {"values": [0,500,1000,1500,2000,2500,3000,3500,4000,4500,5000,5500,6000,6500], "labelExpr": "datum.value % 1000 == 0 ? datum.label : ''", "format": "d", "labelFontSize": 6.5, "tickSize": 3, "labelPadding": 2, "labelOverlap": false, "labelFlush": false, "grid": false, "domainColor": "#555", "tickColor": "#444", "labelColor": "#333", "title": null}}}},
  {"data": {"name": "lb3"}, "transform": [{"filter": "length(datum.label) == 2"}], "mark": {"type": "point", "shape": "M-1,-0.9H1V0.9H-1Z", "size": 100, "filled": true, "fill": "#ffffff", "stroke": "#333333", "strokeWidth": 0.8, "opacity": 1, "yOffset": 7.5}, "encoding": {"y": {"datum": 0, "type": "quantitative", "title": null, "scale": {"domain": [0, 6630], "nice": false},
    "axis": {"values": [0,500,1000,1500,2000,2500,3000,3500,4000,4500,5000,5500,6000,6500], "labelExpr": "datum.value % 1000 == 0 ? datum.label : ''", "format": "d", "labelFontSize": 6.5, "tickSize": 3, "labelPadding": 2, "labelOverlap": false, "labelFlush": false, "grid": false, "domainColor": "#555", "tickColor": "#444", "labelColor": "#333", "title": null}}}},
  {"data": {"name": "lb3"}, "mark": {"type": "text", "fontSize": 7, "color": "#111111", "yOffset": 7.5, "baseline": "middle"}, "encoding": {"text": {"field": "label"}, "y": {"datum": 0, "type": "quantitative", "title": null, "scale": {"domain": [0, 6630], "nice": false},
    "axis": {"values": [0,500,1000,1500,2000,2500,3000,3500,4000,4500,5000,5500,6000,6500], "labelExpr": "datum.value % 1000 == 0 ? datum.label : ''", "format": "d", "labelFontSize": 6.5, "tickSize": 3, "labelPadding": 2, "labelOverlap": false, "labelFlush": false, "grid": false, "domainColor": "#555", "tickColor": "#444", "labelColor": "#333", "title": null}}}}
 ],
 "resolve": {"scale": {"color": "independent"}}}
]
}
